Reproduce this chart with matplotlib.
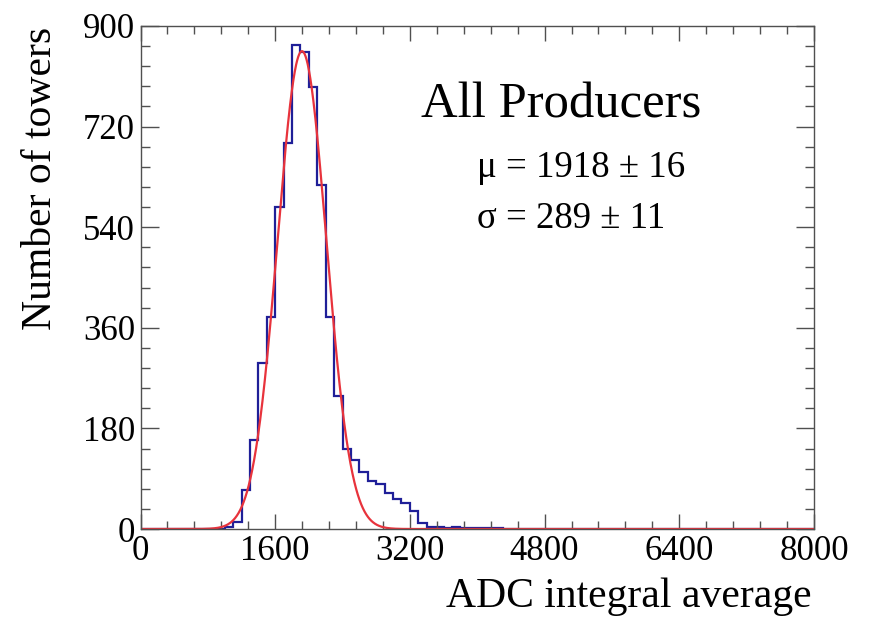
import numpy as np
import matplotlib; matplotlib.use("Agg")
import matplotlib.pyplot as plt
from matplotlib.ticker import MultipleLocator

# Histogram of tower ADC integral averages, 100-wide bins starting at 1000
bin_width = 100
first_edge = 1000
counts = [3, 12, 70, 160, 297, 380, 576, 691, 866, 854, 791, 615, 380, 238,
          144, 123, 102, 86, 80, 65, 53, 47, 33, 10, 4, 3, 2, 3, 1, 2, 1, 2, 1]

# Gaussian fit result
fit_amp = 855
fit_mu, fit_mu_err = 1918, 16
fit_sigma, fit_sigma_err = 289, 11

x_lo, x_hi = 0, 8000
y_lo, y_hi = 0, 900

edges = np.arange(x_lo, x_hi + bin_width, bin_width)
hist = np.zeros(len(edges) - 1)
i0 = (first_edge - x_lo) // bin_width
hist[i0:i0 + len(counts)] = counts

plt.rcParams["font.family"] = ["Liberation Serif", "DejaVu Serif"]

W, H = 872, 627
fig = plt.figure(figsize=(W / 100, H / 100), dpi=100)
ax = fig.add_axes([140.5 / W, 1 - 529 / H, (814 - 140.5) / W, (529 - 26) / H])

ax.stairs(hist, edges, color="#1f1f98", lw=1.6)
xs = np.linspace(x_lo, x_hi, 2000)
ax.plot(xs, fit_amp * np.exp(-0.5 * ((xs - fit_mu) / fit_sigma) ** 2),
        color="#e8333c", lw=1.6)

ax.set_xlim(x_lo, x_hi)
ax.set_ylim(y_lo, y_hi)
ax.xaxis.set_major_locator(MultipleLocator(1600))
ax.xaxis.set_minor_locator(MultipleLocator(320))
ax.yaxis.set_major_locator(MultipleLocator(180))
ax.yaxis.set_minor_locator(MultipleLocator(36))

frame = "#505050"
for sp in ax.spines.values():
    sp.set_edgecolor(frame); sp.set_linewidth(1.0)
ax.tick_params(which="both", direction="in", top=True, right=True,
               colors=frame, labelcolor="black", labelsize=25, width=1.0)
ax.tick_params(axis="x", which="major", length=11, pad=4)
ax.tick_params(axis="x", which="minor", length=5.5)
ax.tick_params(axis="y", which="major", length=13, pad=4)
ax.tick_params(axis="y", which="minor", length=6.5)

fig.text(812 / W, 1 - 607 / H, "ADC integral average", fontsize=30,
         ha="right", va="baseline")
fig.text(41 / W, 1 - 27 / H, "Number of towers", fontsize=30,
         rotation=90, ha="center", va="top")

fig.text(421 / W, 1 - 118 / H, "All Producers", fontsize=36.5, ha="left", va="baseline")
fig.text(477 / W, 1 - 177 / H, f"\u03bc = {fit_mu} \u00b1 {fit_mu_err}",
         fontsize=26.5, ha="left", va="baseline")
fig.text(477 / W, 1 - 228 / H, f"\u03c3 = {fit_sigma} \u00b1 {fit_sigma_err}",
         fontsize=26.5, ha="left", va="baseline")

fig.savefig("out.png", dpi=100)
